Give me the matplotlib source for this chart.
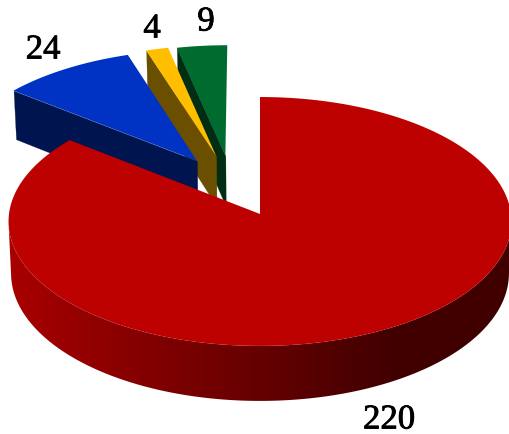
import numpy as np
import matplotlib
matplotlib.use('Agg')
import matplotlib.pyplot as plt
import matplotlib.patheffects as pe
from matplotlib.collections import PolyCollection
from matplotlib.colors import LinearSegmentedColormap
from matplotlib.patches import Polygon

values = [220, 24, 4, 9]
labels = ['220', '24', '4', '9']
top_colors = ['#BD0000', '#0033C4', '#FFBF00', '#006B2E']
side_colors = ['#BD0000', '#00154F', '#6B4F00', '#002D14']
# how far each slice is pulled out, in disc units
offsets = [(0, 0), (-0.258, 0.44), (-0.18, 0.482), (-0.142, 0.482)]
label_pos = [(389, 421), (43, 51), (152, 30), (206, 23)]

cx, cy = 260, 215
rx, ry = 251, 124
k = 0.06
depth = 51.7

red_side = LinearSegmentedColormap.from_list('red_side', ['#A80000', '#400000'])


def project(u, v, drop=0.0):
    d = 1 + k * v
    x = cx + rx * u / d
    y = cy - ry * v / d
    if drop:
        # lower face sits a little further away
        x = cx + (x - cx) * 0.99
        y = y + drop / d
    return x, y


def slice_outline(start, end, off):
    t = np.radians(np.linspace(start, end, max(int(end - start) * 2, 3)))
    u = np.r_[0, np.sin(t), 0] + off[0]
    v = np.r_[0, np.cos(t), 0] + off[1]
    return u, v


fig = plt.figure(figsize=(5.10, 4.35), dpi=100)
ax = fig.add_axes([0, 0, 1, 1])

total = sum(values)
angles = np.cumsum([0] + values) / total * 360
# far slices first, red goes on top of them
for n, i in enumerate([3, 2, 1, 0]):
    z = 1 + n * 2
    u, v = slice_outline(angles[i], angles[i + 1], offsets[i])
    x, y = project(u, v)
    xb, yb = project(u, v, depth)
    if i == 0:
        # shaded rim: horizontal ramp clipped to the front of the band
        front = v[1:-1] < -k
        band = np.r_[np.c_[x[1:-1][front], y[1:-1][front]],
                     np.c_[xb[1:-1][front], yb[1:-1][front]][::-1]]
        ramp = np.linspace(0, 1, 256).reshape(1, -1)
        im = ax.imshow(ramp, cmap=red_side, extent=(8, 400, 435, 0), aspect='auto',
                       zorder=z, interpolation='bilinear')
        flat = ax.fill([400, 510, 510, 400], [0, 0, 435, 435], color='#400000', lw=0, zorder=z)[0]
        clip = Polygon(band, closed=True, transform=ax.transData)
        im.set_clip_path(clip)
        flat.set_clip_path(clip)
    else:
        # only the edge facing the viewer shows
        quad = [(x[0], y[0]), (x[1], y[1]), (xb[1], yb[1]), (xb[0], yb[0])]
        ax.add_collection(PolyCollection([quad], facecolors=side_colors[i], edgecolors=side_colors[i],
                                         linewidths=0.2, zorder=z))
    ax.fill(x, y, color=top_colors[i], lw=0, zorder=z + 1)

for lab, pos in zip(labels, label_pos):
    ax.text(pos[0], pos[1], lab, family='Liberation Serif', fontsize=25, ha='center', va='center',
            color='black', zorder=20, path_effects=[pe.withStroke(linewidth=0.6, foreground='black')])

ax.set_xlim(0, 510)
ax.set_ylim(435, 0)
ax.axis('off')

fig.savefig('out.png', dpi=100)
